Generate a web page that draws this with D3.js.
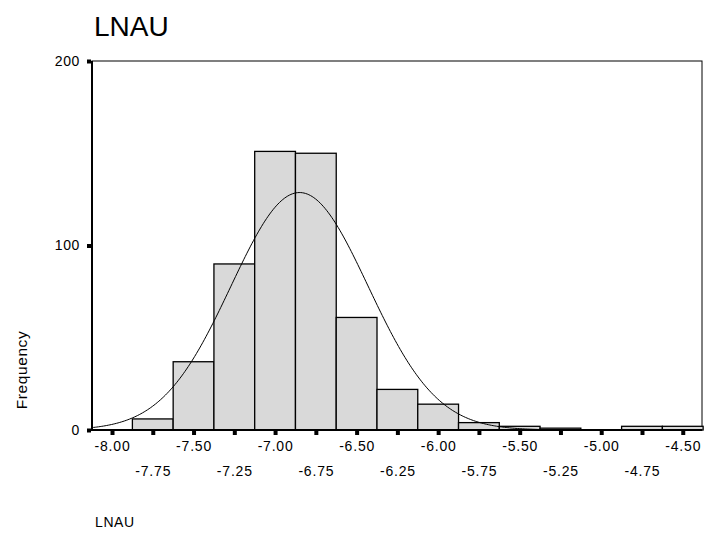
<!DOCTYPE html>
<html>
<head>
<meta charset="utf-8">
<script src="https://cdn.jsdelivr.net/npm/d3@7"></script>
<style>
  html, body { margin: 0; padding: 0; background: #fff; }
  svg { display: block; font-family: Arial, "Liberation Sans", sans-serif; }
</style>
</head>
<body>
<svg id="chart" width="715" height="535"></svg>
<script>
// ---- data ----
const binCenters = [-8.00, -7.75, -7.50, -7.25, -7.00, -6.75, -6.50, -6.25, -6.00, -5.75, -5.50, -5.25, -5.00, -4.75, -4.50];
const counts     = [0, 6, 37, 90, 151, 150, 61, 22, 14, 4, 2, 1, 0, 2, 2];
const binWidth = 0.25;
const xTickValues = [-8.00, -7.75, -7.50, -7.25, -7.00, -6.75, -6.50, -6.25, -6.00, -5.75, -5.50, -5.25, -5.00, -4.75, -4.50];
const yTickValues = [0, 100, 200];
const normalMean = -6.85;
const normalSD = 0.42;
const titleText = "LNAU";
const yLabel = "Frequency";
const xLabel = "LNAU";

const svg = d3.select("#chart");
const pLeft = 92, pRight = 702, pTop = 61, pBottom = 430;

const x = d3.scaleLinear().domain([-8.1227, -4.382]).range([pLeft, pRight]);
const y = d3.scaleLinear().domain([0, 200]).range([pBottom, pTop]);

// frame
svg.append("rect")
  .attr("x", pLeft).attr("y", pTop)
  .attr("width", pRight - pLeft).attr("height", pBottom - pTop)
  .attr("fill", "none").attr("stroke", "#000").attr("stroke-width", 1);

// bars
const bins = binCenters.map((c, i) => ({c, n: counts[i]})).filter(d => d.n > 0);
svg.append("g").selectAll("rect").data(bins).join("rect")
  .attr("x", d => x(d.c - binWidth / 2))
  .attr("y", d => y(d.n))
  .attr("width", d => x(d.c + binWidth / 2) - x(d.c - binWidth / 2))
  .attr("height", d => y(0) - y(d.n))
  .attr("fill", "#d9d9d9")
  .attr("stroke", "#000")
  .attr("stroke-width", 1.3);

// normal curve from mean / sd / total count
const N = d3.sum(counts);
const curveX = d3.range(x.domain()[0], x.domain()[1] + 0.001, 0.01);
const dens = v => N * binWidth / (normalSD * Math.sqrt(2 * Math.PI)) * Math.exp(-0.5 * ((v - normalMean) / normalSD) ** 2);
svg.append("path")
  .datum(curveX)
  .attr("fill", "none")
  .attr("stroke", "#000")
  .attr("stroke-width", 1)
  .attr("d", d3.line().x(v => x(v)).y(v => y(dens(v))));

// axes lines (heavier)
svg.append("line").attr("x1", pLeft).attr("x2", pLeft).attr("y1", pTop).attr("y2", pBottom + 1)
  .attr("stroke", "#000").attr("stroke-width", 2);
svg.append("line").attr("x1", pLeft - 1).attr("x2", pRight).attr("y1", pBottom).attr("y2", pBottom)
  .attr("stroke", "#000").attr("stroke-width", 2);

// y axis
const yAxis = svg.append("g").attr("transform", `translate(${pLeft - 1},0)`)
  .call(d3.axisLeft(y).tickValues(yTickValues).tickSize(4).tickPadding(7).tickFormat(d3.format("d")));
yAxis.select(".domain").remove();
yAxis.selectAll(".tick line").attr("stroke-width", 4);
yAxis.selectAll("text").attr("font-size", 14).attr("letter-spacing", 0.6).attr("fill", "#000")
  .attr("font-family", "Arial, 'Liberation Sans', sans-serif");

// x axis: two staggered rows of labels (hyphen-minus as in the reference)
const fmt = v => d3.format(".2f")(v).replace("\u2212", "-");
const evenTicks = xTickValues.filter((d, i) => i % 2 === 0);
const oddTicks = xTickValues.filter((d, i) => i % 2 === 1);
const xAxis1 = svg.append("g").attr("transform", `translate(0,${pBottom + 1})`)
  .call(d3.axisBottom(x).tickValues(evenTicks).tickSize(4).tickPadding(6).tickFormat(fmt));
const xAxis2 = svg.append("g").attr("transform", `translate(0,${pBottom + 1})`)
  .call(d3.axisBottom(x).tickValues(oddTicks).tickSize(4).tickPadding(31).tickFormat(fmt));
[xAxis1, xAxis2].forEach(g => {
  g.select(".domain").remove();
  g.selectAll(".tick line").attr("stroke-width", 4);
  g.selectAll("text").attr("font-size", 14).attr("letter-spacing", 0.8).attr("fill", "#000")
    .attr("font-family", "Arial, 'Liberation Sans', sans-serif");
});

// title
svg.append("text").attr("x", 94).attr("y", 36)
  .attr("font-size", 28).attr("fill", "#000").text(titleText);

// y label
svg.append("text")
  .attr("transform", "translate(27,370) rotate(-90)")
  .attr("text-anchor", "middle")
  .attr("font-size", 15.5).attr("letter-spacing", 0.6).attr("fill", "#000").text(yLabel);

// x label
svg.append("text").attr("x", 95).attr("y", 527)
  .attr("font-size", 14).attr("letter-spacing", 0.6).attr("fill", "#000").text(xLabel);
</script>
</body>
</html>
